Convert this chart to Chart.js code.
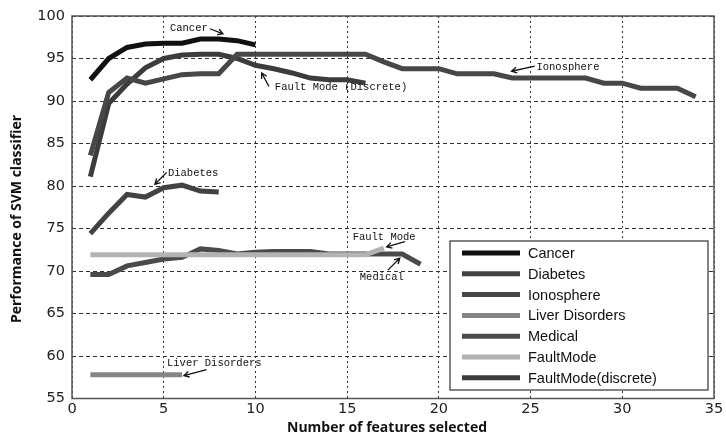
<!DOCTYPE html>
<html>
<head>
<meta charset="utf-8">
<script src="https://cdn.jsdelivr.net/npm/chart.js@4/dist/chart.umd.min.js"></script>
<style>
  html, body { margin: 0; padding: 0; background: #fff; }
  #wrap { width: 726px; height: 442px; }
</style>
</head>
<body>
<div id="wrap"><canvas id="myChart" width="726" height="442"></canvas></div>
<script>
// values, first point is at 1 feature
const seriesNames = ['Cancer', 'Diabetes', 'Ionosphere', 'Liver Disorders', 'Medical', 'FaultMode', 'FaultMode(discrete)'];
const cancer = [92.5, 95.0, 96.3, 96.7, 96.8, 96.8, 97.3, 97.3, 97.1, 96.6];
const diabetes = [74.4, 76.8, 79.0, 78.7, 79.8, 80.1, 79.4, 79.3];
const ionosphere = [83.6, 91.0, 92.7, 92.1, 92.6, 93.1, 93.2, 93.2, 95.5, 95.5, 95.5, 95.5, 95.5, 95.5, 95.5, 95.5,
  94.6, 93.8, 93.8, 93.8, 93.2, 93.2, 93.2, 92.7, 92.7, 92.7, 92.7, 92.7, 92.1, 92.1, 91.5, 91.5, 91.5, 90.5];
const liver = [57.8, 57.8, 57.8, 57.8, 57.8, 57.8];
const medical = [69.6, 69.6, 70.6, 71.0, 71.4, 71.6, 72.6, 72.4, 72.0, 72.2, 72.3, 72.3, 72.3, 72.0, 72.0, 72.0, 72.0, 72.0, 70.8];
const faultMode = [71.9, 71.9, 71.9, 71.9, 71.9, 71.9, 71.9, 71.9, 71.9, 71.9, 71.9, 71.9, 71.9, 71.9, 71.9, 71.9, 72.7];
const faultModeDiscrete = [81.1, 89.7, 92.0, 93.9, 95.0, 95.4, 95.5, 95.5, 95.0, 94.2, 93.8, 93.3, 92.7, 92.5, 92.5, 92.1];
const xTicks = [0, 5, 10, 15, 20, 25, 30, 35];
const yTicks = [55, 60, 65, 70, 75, 80, 85, 90, 95, 100];

const colors = ['#111111', '#424242', '#474747', '#858585', '#4a4a4a', '#b3b3b3', '#3c3c3c'];

// callout texts on the plot: [text, x, y, arrowFromX, arrowFromY, arrowToX, arrowToY] in data units
const notes = [
  ['Cancer', 5.34, 98.6, 7.52, 98.5, 8.23, 97.9],
  ['Fault Mode (Discrete)', 11.06, 91.6, 10.74, 91.7, 10.34, 93.3],
  ['Ionosphere', 25.32, 94.0, 25.23, 94.1, 23.96, 93.5],
  ['Diabetes', 5.23, 81.5, 5.16, 81.6, 4.52, 80.2],
  ['Fault Mode', 15.3, 74.0, 18.15, 73.45, 17.15, 72.85],
  ['Medical', 15.69, 69.3, 17.22, 70.1, 17.87, 71.5],
  ['Liver Disorders', 5.18, 59.1, 7.34, 58.4, 6.1, 57.7]
];

function toPoints(arr) {
  return arr.map(function (v, i) { return {x: i + 1, y: v}; });
}

const allSeries = [cancer, diabetes, ionosphere, liver, medical, faultMode, faultModeDiscrete];
const drawOrder = [1, 3, 4, 6, 7, 2, 5];

const data = {
  datasets: allSeries.map(function (s, i) {
    return {
      label: seriesNames[i],
      data: toPoints(s),
      borderColor: colors[i],
      backgroundColor: colors[i],
      borderWidth: 5,
      pointRadius: 0,
      tension: 0,
      order: drawOrder[i]
    };
  })
};

function arrow(ctx, x1, y1, x2, y2) {
  ctx.beginPath();
  ctx.moveTo(x1, y1);
  ctx.lineTo(x2, y2);
  const a = Math.atan2(y2 - y1, x2 - x1);
  const h = 6;
  ctx.moveTo(x2 - h * Math.cos(a - 0.5), y2 - h * Math.sin(a - 0.5));
  ctx.lineTo(x2, y2);
  ctx.lineTo(x2 - h * Math.cos(a + 0.5), y2 - h * Math.sin(a + 0.5));
  ctx.stroke();
}

const extras = {
  id: 'extras',
  afterDatasetsDraw(chart) {
    const ctx = chart.ctx;
    const xs = chart.scales.x, ys = chart.scales.y;
    const area = chart.chartArea;
    ctx.save();
    // box round the plot
    ctx.strokeStyle = '#555';
    ctx.lineWidth = 1.5;
    ctx.strokeRect(area.left, area.top, area.right - area.left, area.bottom - area.top);

    // callouts
    ctx.fillStyle = '#111';
    ctx.strokeStyle = '#111';
    ctx.lineWidth = 1.3;
    ctx.font = '10.5px "Liberation Mono", "DejaVu Sans Mono", monospace';
    ctx.textBaseline = 'middle';
    ctx.textAlign = 'left';
    notes.forEach(function (n) {
      ctx.fillText(n[0], xs.getPixelForValue(n[1]), ys.getPixelForValue(n[2]));
      arrow(ctx, xs.getPixelForValue(n[3]), ys.getPixelForValue(n[4]),
        xs.getPixelForValue(n[5]), ys.getPixelForValue(n[6]));
    });

    // legend inside the plot
    const lx = 450, ly = 241, lw = 258, lh = 149;
    ctx.fillStyle = '#fff';
    ctx.fillRect(lx, ly, lw, lh);
    ctx.strokeStyle = '#333';
    ctx.lineWidth = 1.2;
    ctx.strokeRect(lx, ly, lw, lh);
    ctx.font = '14.5px "Liberation Sans", Arial, sans-serif';
    seriesNames.forEach(function (name, i) {
      const y = ly + 12 + i * 20.8;
      ctx.strokeStyle = colors[i];
      ctx.lineWidth = 5;
      ctx.beginPath();
      ctx.moveTo(lx + 12, y);
      ctx.lineTo(lx + 70, y);
      ctx.stroke();
      ctx.fillStyle = '#111';
      ctx.fillText(name, lx + 78, y + 1);
    });

    // axis titles
    ctx.fillStyle = '#111';
    ctx.font = 'bold 14px "Open Sans", "Noto Sans", sans-serif';
    ctx.textAlign = 'center';
    ctx.fillText('Number of features selected', 387, 428);
    ctx.translate(17, 219);
    ctx.rotate(-Math.PI / 2);
    ctx.fillText('Performance of SVM classifier', 0, 0);
    ctx.restore();
  }
};

const tickFont = {family: '"DejaVu Sans", Arial, sans-serif', size: 14.5};

const config = {
  type: 'line',
  data: data,
  options: {
    responsive: false,
    animation: false,
    layout: {padding: {left: 0, right: 12, top: 16, bottom: 0}},
    plugins: {
      legend: {display: false},
      tooltip: {enabled: false}
    },
    scales: {
      x: {
        type: 'linear',
        min: 0,
        max: 35,
        afterBuildTicks: function (axis) { axis.ticks = xTicks.map(function (v) { return {value: v}; }); },
        afterFit: function (axis) { axis.height = 43.5; },
        grid: {color: '#333', lineWidth: 1, drawTicks: false},
        border: {display: false, dash: [2, 3]},
        ticks: {color: '#222', padding: 2, maxRotation: 0, font: tickFont}
      },
      y: {
        min: 55,
        max: 100,
        afterBuildTicks: function (axis) { axis.ticks = yTicks.map(function (v) { return {value: v}; }); },
        afterFit: function (axis) { axis.width = 72; },
        grid: {color: '#333', lineWidth: 1, drawTicks: false},
        border: {display: false, dash: [4, 3]},
        ticks: {color: '#222', padding: 7, font: tickFont}
      }
    }
  },
  plugins: [extras]
};

var ctx = document.getElementById('myChart');
var myChart = new Chart(ctx, config);
</script>
</body>
</html>
